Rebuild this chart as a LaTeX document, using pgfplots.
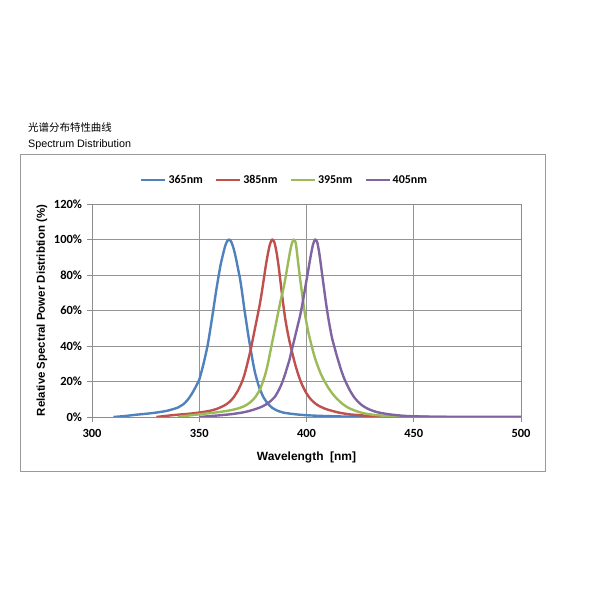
\documentclass[border=0pt]{standalone}
\usepackage{pgfplots}
\pgfplotsset{compat=1.18}
\usepackage{fontspec}
\setmainfont{Carlito}
\newfontfamily\arial{Liberation Sans}
\newfontfamily\cjk{Noto Sans CJK SC}
\definecolor{cblue}{HTML}{4F81BD}
\definecolor{cred}{HTML}{C0504D}
\definecolor{cgreen}{HTML}{9BBB59}
\definecolor{cpurple}{HTML}{8064A2}
\begin{document}
\begin{tikzpicture}
\path[use as bounding box] (0bp,0bp) rectangle (600bp,600bp);
\draw[black!40, line width=1bp] (20bp,128bp) rectangle (545bp,445bp);
\node[anchor=base west, inner sep=0] at (28bp,468.3bp) {\cjk\fontsize{10.5}{12}\selectfont 光谱分布特性曲线};
\node[anchor=base west, inner sep=0] at (28bp,452.3bp) {\arial\fontsize{10.8}{12}\selectfont Spectrum Distribution};
\begin{axis}[
  at={(92bp,183bp)}, anchor=south west,
  width=429bp, height=213bp, scale only axis,
  xmin=300, xmax=500, ymin=0, ymax=120,
  xtick={300,350,400,450,500}, ytick={0,20,40,60,80,100,120},
  yticklabel={\pgfmathprintnumber{\tick}\%},
  /pgf/number format/assume math mode=true,
  ticklabel style={font=\bfseries\fontsize{12.5}{14}\selectfont},
  xticklabel style={yshift=-3.5bp},
  yticklabel style={xshift=-1.5bp},
  tick pos=left, tick align=outside, major tick length=5bp,
  tick style={black!45, line width=0.8bp},
  axis line style={black!45, line width=0.8bp},
  grid=major, grid style={black!42, line width=0.8bp},
  xlabel={\arial\bfseries Wavelength\ \ [nm]},
  ylabel={\arial\bfseries Relative Spectral Power Distribtion (\%)},
  xlabel style={at={(axis description cs:0.5,-0.19)}, anchor=center, font=\fontsize{12}{14}\selectfont},
  ylabel style={at={(axis description cs:-0.117,0.5)}, anchor=center, font=\fontsize{11.5}{14}\selectfont},
  legend columns=4,
  legend style={at={(0.449,1.113)}, anchor=center, draw=none, fill=none,
    font=\bfseries\fontsize{12}{14}\selectfont,
    /tikz/every even column/.append style={column sep=10bp}},
  legend image code/.code={\draw[#1] (0bp,0bp) -- (24bp,0bp);},
  every axis plot/.append style={line width=2.4bp, line join=round, smooth, tension=0.4},
]
\addplot[cblue] coordinates {
(310,0) (315,0.5) (320,1.2) (325,1.8) (330,2.5) (335,3.5) (340,5.3) (343,7.6) (345,10.3)
(347,14) (349,18.5) (350,21) (352,30) (354,41) (356,56) (358,72) (360,86) (362,96)
(363,99) (364,100) (365,98.5) (366,95) (367,90) (368,84) (369,78) (370,70) (371,61)
(372,53) (373,45) (374,38) (375,31) (376,25) (377,20.5) (378,16.5) (380,11) (382,7.5)
(384,5.2) (386,3.8) (388,2.9) (390,2.3) (395,1.5) (400,1.0) (405,0.7) (410,0.5) (420,0.2)
(430,0.1) (440,0) (500,0)};
\addlegendentry{365nm}
\addplot[cred] coordinates {
(330,0) (335,0.7) (340,1.3) (345,1.8) (350,2.5) (355,3.5) (358,4.5) (360,5.5) (362,6.7)
(364,8.4) (366,11) (368,14.8) (369,17.3) (370,20) (371,23.5) (372,28) (373,33) (374,38)
(375,44) (376,50) (377,56) (378,62) (379,69) (380,77) (381,85) (382,92) (383,97.5)
(384,100) (385,98.5) (386,93) (387,85) (388,75) (389,65) (390,56) (391,49) (392,43)
(393,38) (394,33) (395,28.5) (396,24.5) (397,21) (398,18) (400,13.3) (402,10) (404,7.7)
(406,6.1) (408,5) (410,4.1) (415,2.5) (420,1.5) (425,1) (430,0.6) (440,0.3) (450,0.1)
(460,0) (500,0)};
\addlegendentry{385nm}
\addplot[cgreen] coordinates {
(340,0) (345,0.8) (350,1.5) (355,2.2) (360,2.9) (365,3.9) (368,4.8) (370,5.6) (372,6.8) (374,8.5)
(376,11) (378,14.8) (379,17.6) (380,21) (381,25) (382,30) (383,36) (384,42) (385,48) (386,54)
(387,60) (388,66) (389,71) (390,77) (391,84) (392,91) (393,97) (394,100) (395,98)
(396,88) (397,78) (398,69) (399,60) (400,53) (401,47) (402,42) (403,37.3) (404,33)
(405,29.5) (406,26.3) (407,23.5) (408,21) (410,16.8) (412,13.3) (414,10.5) (416,8.2)
(418,6.3) (420,4.9) (423,3.4) (426,2.3) (430,1.4) (435,0.8) (440,0.5) (450,0.2) (460,0) (500,0)};
\addlegendentry{395nm}
\addplot[cpurple] coordinates {
(350,0) (355,0.5) (360,1) (365,1.6) (370,2.5) (373,3.3) (375,4) (377,4.8) (379,5.7)
(381,7) (383,8.7) (385,11) (386,12.8) (387,15) (388,17.5) (389,20.5) (390,24) (391,28)
(392,32) (393,37) (394,42) (395,47) (396,52) (397,57) (398,63) (399,70) (400,77)
(401,84) (402,91) (403,97) (404,100) (405,98.5) (406,92) (407,83) (408,74) (409,65)
(410,57) (411,50) (412,44) (413,39.5) (414,35) (415,31) (416,27) (417,23.5) (418,20.5)
(420,15.5) (422,11.5) (424,8.6) (426,6.5) (428,5) (430,3.9) (433,2.7) (437,1.8) (440,1.3)
(445,0.7) (450,0.4) (460,0.1) (470,0) (500,0)};
\addlegendentry{405nm}
\end{axis}
\end{tikzpicture}
\end{document}
